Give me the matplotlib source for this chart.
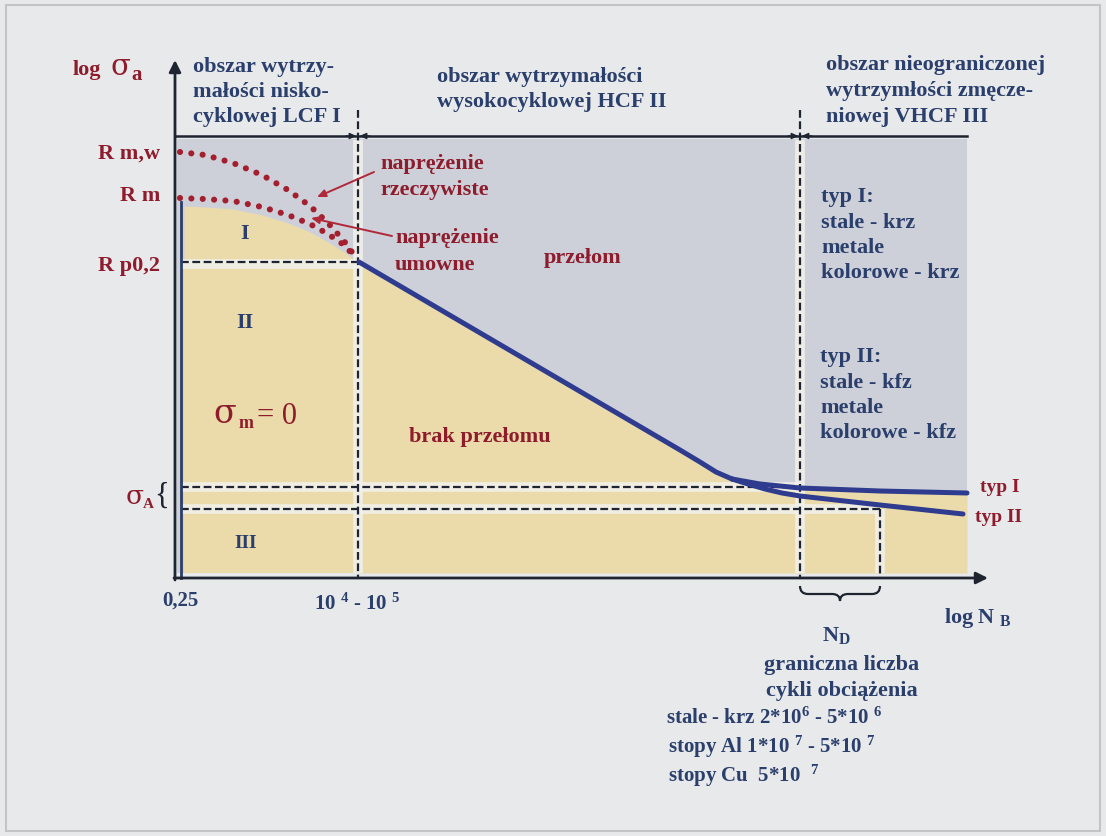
import matplotlib
matplotlib.use("Agg")
import matplotlib.pyplot as plt
from matplotlib.path import Path
from matplotlib.patches import PathPatch, Rectangle

# Schematic Woehler (S-N) diagram. Coordinates are diagram units:
# x grows with log N, y grows downwards (smaller log sigma_a).

# main S-N line (HCF) down to the knee
sn_x = [359, 680, 700, 716, 732]
sn_y = [262, 450, 462, 472, 479]
# branch "typ I" (bcc) - fatigue limit
typ1_x = [732, 760, 800, 880, 967]
typ1_y = [479, 484, 488, 491, 493]
# branch "typ II" (fcc) - keeps falling
typ2_x = [732, 748, 765, 782, 800, 880, 963]
typ2_y = [479, 484, 489, 493, 496, 505, 514]

# dotted strength curves in the LCF range
rmw_x = [180, 205, 233, 262, 288, 310, 328, 344, 357]
rmw_y = [152, 155, 163, 175, 190, 206, 223, 241, 259]
rm_x = [180, 205, 233, 262, 288, 310, 328, 344, 357]
rm_y = [198, 199, 201, 207, 215, 224, 234, 245, 259]
# upper edge of field I
fieldI_x = [184, 205, 233, 262, 288, 310, 328, 344, 352]
fieldI_y = [206, 207, 209, 215, 223, 232, 242, 252, 258]

# characteristic levels / cycle numbers
x_origin, y_origin = 175, 578
x_lcf, x_vhcf, x_nd = 358, 800, 880
y_top = 136
y_rp02 = 262
y_sa_hi, y_sa_lo = 487, 509
x_right = 967

BG = "#E8E9EB"
GREY = "#CDD0D9"
YELLOW = "#EBDBAA"
GAP = "#F1F0EA"
NAVY = "#2B3F6C"
RED = "#8E1C2C"
LINE = "#2E3B8E"
INK = "#1E2430"
SERIF = "Liberation Serif"

plt.rcParams["mathtext.fontset"] = "custom"
plt.rcParams["mathtext.rm"] = "Liberation Serif:bold"
plt.rcParams["mathtext.it"] = "Liberation Serif:bold"
plt.rcParams["mathtext.bf"] = "Liberation Serif:bold"

fig = plt.figure(figsize=(11.06, 8.36), dpi=100, facecolor=BG)
ax = fig.add_axes([0, 0, 1, 1])
ax.set_xlim(0, 1106)
ax.set_ylim(836, 0)
ax.axis("off")

# page frame
ax.add_patch(Rectangle((6, 5), 1094, 826, fill=False, ec="#C3C4C6", lw=1.5))

# fields: grey = fracture, yellow = no fracture
ax.add_patch(Rectangle((177, 139), x_right - 177, 434, fc=GREY, ec="none"))
env_x = sn_x + typ1_x[1:]
env_y = sn_y + typ1_y[1:]
ax.fill_between(env_x, env_y, 573, color=YELLOW, lw=0)
ax.add_patch(Rectangle((184, y_rp02), x_lcf - 184, 573 - y_rp02, fc=YELLOW, ec="none"))
ax.fill_between(fieldI_x, fieldI_y, y_rp02, color=YELLOW, lw=0)

# light bands under the dashed guide lines
band = dict(color=GAP, lw=7, solid_capstyle="butt", alpha=0.9)
ax.plot([181, x_lcf], [y_rp02 + 2, y_rp02 + 2], **band)
ax.plot([181, x_vhcf], [y_sa_hi, y_sa_hi], **band)
ax.plot([181, x_nd], [y_sa_lo, y_sa_lo], **band)
for xv, y0 in [(x_lcf, 140), (x_vhcf, 140), (x_nd, y_sa_lo)]:
    ax.plot([xv, xv], [y0, 573], **band)

# dashed guide lines
dash = dict(color=INK, lw=1.6, ls=(0, (3.5, 1.6)))
ax.plot([181, x_lcf], [y_rp02, y_rp02], **dash)
ax.plot([181, x_vhcf], [y_sa_hi, y_sa_hi], **dash)
ax.plot([181, x_nd], [y_sa_lo, y_sa_lo], **dash)
ax.plot([x_lcf, x_lcf], [110, y_origin], **dash)
ax.plot([x_vhcf, x_vhcf], [110, y_origin], **dash)
ax.plot([x_nd, x_nd], [y_sa_lo, y_origin], **dash)

# axes with arrows
ax.annotate("", xy=(x_origin, 60), xytext=(x_origin, y_origin + 2),
            arrowprops=dict(arrowstyle="-|>,head_width=0.35,head_length=0.7",
                            color=INK, lw=2, shrinkA=0, shrinkB=0))
ax.annotate("", xy=(988, y_origin), xytext=(x_origin - 1, y_origin),
            arrowprops=dict(arrowstyle="-|>,head_width=0.35,head_length=0.7",
                            color=INK, lw=2, shrinkA=0, shrinkB=0))
ax.plot([181, 181], [202, y_origin], color=NAVY, lw=2)

# top line with the range-boundary marks
ax.plot([x_origin, x_right], [y_top, y_top], color=INK, lw=1.8)
for xb in (x_lcf, x_vhcf):
    for side in (-1, 1):
        ax.annotate("", xy=(xb + side * 1.5, y_top), xytext=(xb + side * 12, y_top),
                    arrowprops=dict(arrowstyle="-|>,head_width=0.18,head_length=0.4",
                                    color=INK, lw=1, shrinkA=0, shrinkB=0))

# dotted LCF curves
dots = dict(color="#A31E2E", lw=4.4, ls=(0, (0.01, 1.85)), dash_capstyle="round")
ax.plot(rmw_x, rmw_y, **dots)
ax.plot(rm_x, rm_y, **dots)

# S-N curve and its two branches
curve = dict(color=LINE, lw=3.6, solid_capstyle="round", solid_joinstyle="round")
ax.plot(sn_x, sn_y, **curve)
ax.plot(typ1_x, typ1_y, **curve)
ax.plot(typ2_x, typ2_y, **curve)

# brace under N_D
bx0, bx1, by = x_vhcf, x_nd, 586
bm = (bx0 + bx1) / 2
verts = [(bx0, by), (bx0, by + 8), (bx0 + 8, by + 8), (bm - 8, by + 8),
         (bm, by + 8), (bm, by + 15), (bm, by + 8), (bm + 8, by + 8),
         (bx1 - 8, by + 8), (bx1, by + 8), (bx1, by)]
codes = [Path.MOVETO, Path.CURVE3, Path.CURVE3, Path.LINETO,
         Path.CURVE3, Path.CURVE3, Path.CURVE3, Path.CURVE3,
         Path.LINETO, Path.CURVE3, Path.CURVE3]
ax.add_patch(PathPatch(Path(verts, codes), fill=False, ec=INK, lw=1.6))

# annotation arrows to the dotted curves
arr = dict(arrowstyle="-|>,head_width=0.22,head_length=0.5", color="#B0283A", lw=1.4,
           shrinkA=0, shrinkB=0)
ax.annotate("", xy=(317, 197), xytext=(374, 172), arrowprops=arr)
ax.annotate("", xy=(311, 218), xytext=(392, 236), arrowprops=arr)


def txt(x, y, s, color=NAVY, size=16, ha="left", va="center", weight="bold",
        family=SERIF, **kw):
    ax.text(x, y, s, color=color, fontsize=size, ha=ha, va=va,
            fontweight=weight, family=family, **kw)


def sigma(x, y, size, color=RED):
    txt(x, y, "σ", color=color, size=size, weight="normal", family="DejaVu Serif")


# range headers
for i, s in enumerate(["obszar wytrzy-", "małości nisko-", "cyklowej LCF I"]):
    txt(193, 67 + 25 * i, s)
for i, s in enumerate(["obszar wytrzymałości", "wysokocyklowej HCF II"]):
    txt(437, 77 + 25 * i, s)
for i, s in enumerate(["obszar nieograniczonej", "wytrzymłości zmęcze-", "niowej VHCF III"]):
    txt(826, 65 + 26 * i, s)

# material groups in the VHCF field
for i, s in enumerate(["typ I:", "stale - krz", "metale", "kolorowe - krz"]):
    txt(821, 197 + 25.5 * i, s)
for i, s in enumerate(["typ II:", "stale - kfz", "metale", "kolorowe - kfz"]):
    txt(820, 357 + 25.5 * i, s)

# y axis label and levels
txt(73, 70, "log", color=RED)
sigma(111, 67, 21)
txt(131, 75, "a", color=RED, size=15)
txt(160, 154, "R m,w", color=RED, ha="right")
txt(160, 196, "R m", color=RED, ha="right")
txt(160, 266, "R p0,2", color=RED, ha="right")
sigma(126, 496, 19)
txt(143, 505, "A", color=RED, size=11)
txt(154, 496, "{", color=INK, size=22, weight="normal")

# field labels
txt(245, 234, "I", ha="center")
txt(245, 323, "II", ha="center")
txt(246, 543, "III", ha="center", size=14)
sigma(213, 414, 24)
txt(239, 424, "m", color=RED, size=13)
txt(257, 416, "= 0", color=RED, size=22, weight="normal")
txt(583, 258, "przełom", color=RED, ha="center")
txt(480, 437, "brak przełomu", color=RED, ha="center")
for i, s in enumerate(["naprężenie", "rzeczywiste"]):
    txt(380, 164 + 26 * i, s, color=RED)
for i, s in enumerate(["naprężenie", "umowne"]):
    txt(395, 238 + 27 * i, s, color=RED)
txt(980, 487, "typ I", color=RED, size=14)
txt(975, 518, "typ II", color=RED, size=14)

# x axis labels
txt(180, 601, "0,25", ha="center", size=15)
txt(357, 604, r"10 $^{4}$ - 10 $^{5}$", ha="center", size=15)
txt(944, 618, r"log N $_{B}$", size=16)
txt(822, 636, r"N$_{D}$", size=16)

# limiting number of cycles
txt(842, 665, "graniczna liczba", ha="center")
txt(842, 691, "cykli obciążenia", ha="center")
txt(666, 718, r"stale - krz 2*10$^{6}$ - 5*10 $^{6}$", size=15)
txt(668, 747, r"stopy Al 1*10 $^{7}$ - 5*10 $^{7}$", size=15)
txt(668, 776, r"stopy Cu  5*10  $^{7}$", size=15)

fig.savefig("out.png", dpi=100, facecolor=BG)
